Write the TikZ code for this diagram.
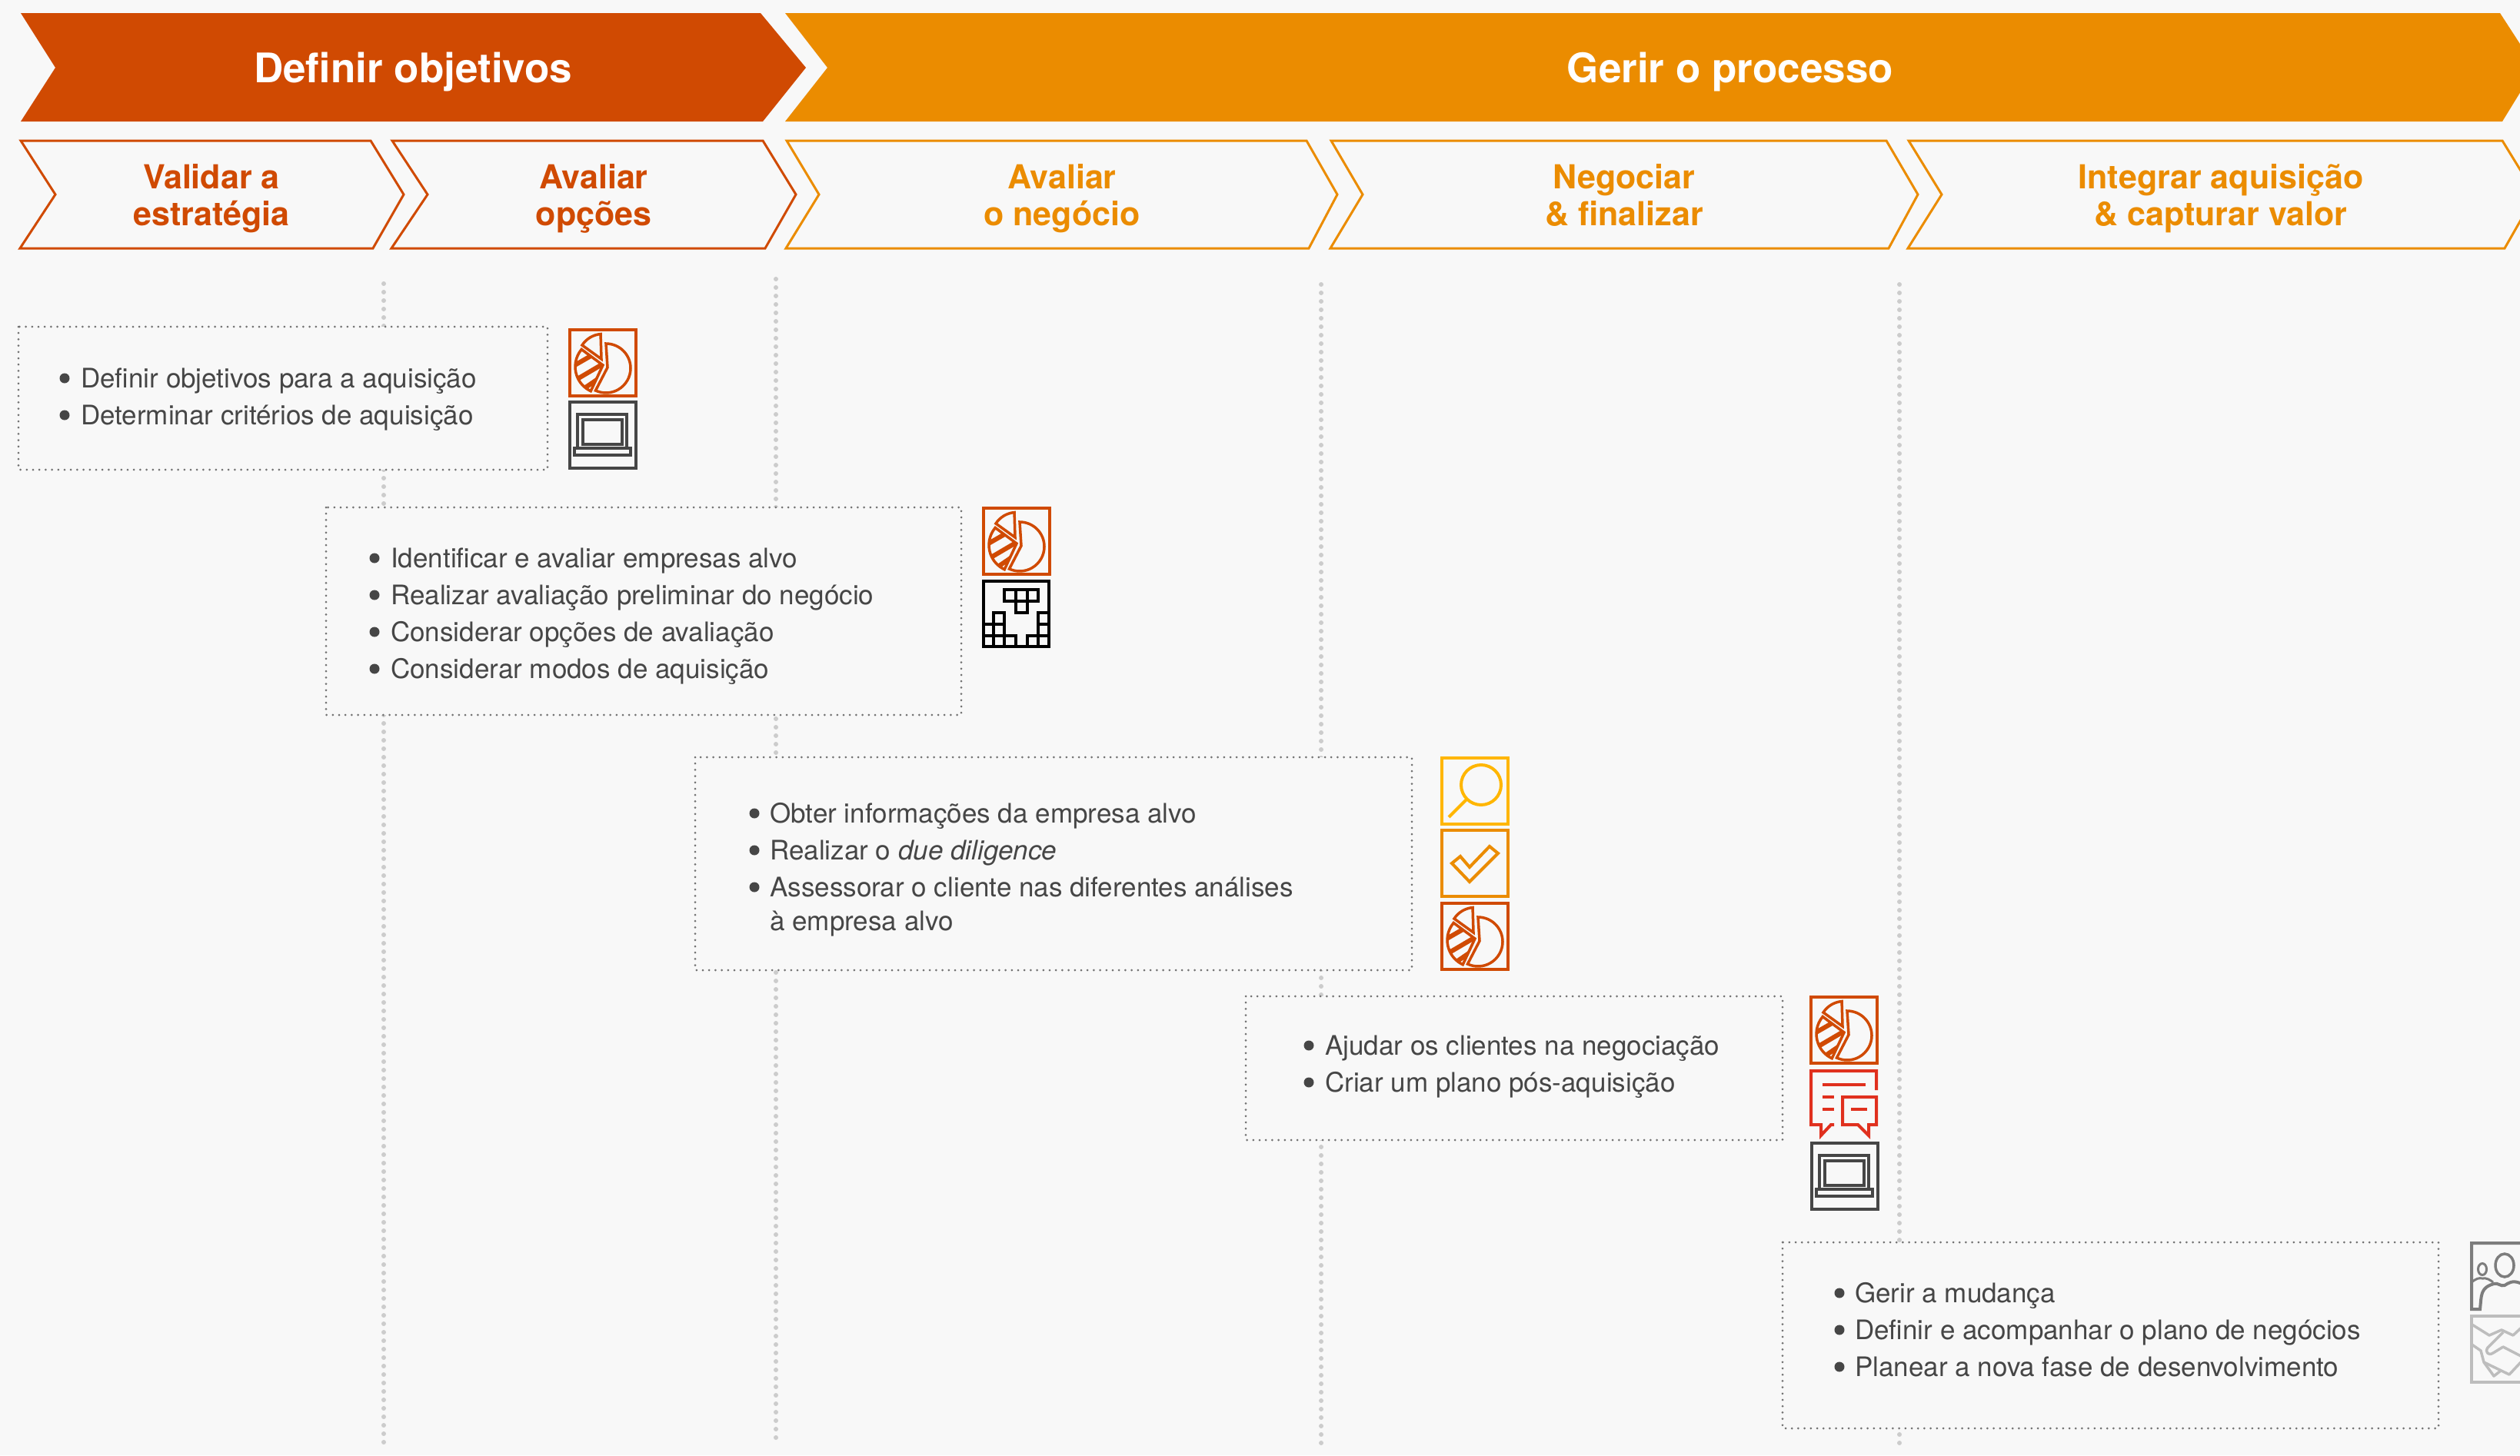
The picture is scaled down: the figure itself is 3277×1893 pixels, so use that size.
\documentclass[tikz,border=0pt]{standalone}
\usepackage{fontspec}
\setmainfont{TeX Gyre Heros}
\definecolor{bgc}{HTML}{F8F8F8}
\definecolor{rust}{HTML}{D04A02}
\definecolor{amber}{HTML}{EB8C00}
\definecolor{yel}{HTML}{FFB600}
\definecolor{redc}{HTML}{E0301E}
\definecolor{dk}{HTML}{464646}
\definecolor{gr}{HTML}{7D7D7D}
\definecolor{lg}{HTML}{BDBDBD}
\tikzset{
  x=1pt,y=-1pt,
  headtext/.style={text=white,inner sep=0pt,anchor=base,yshift=-2pt,font=\fontsize{53}{60}\selectfont\bfseries},
  subtext/.style={inner sep=0pt,anchor=base,yshift=-1pt,font=\fontsize{43}{48}\selectfont\bfseries},
  itemtext/.style={inner sep=0pt,anchor=base west,yshift=-1.5pt,text=dk,font=\fontsize{35}{48}\selectfont},
  bulletdot/.style={circle,fill=dk,inner sep=0pt,minimum size=13pt},
  guide/.style={draw=black!20,line width=6pt,line cap=round,dash pattern=on 0pt off 11pt},
  boxdots/.style={draw=gr!90!black,fill=bgc,line width=3pt,line cap=round,dash pattern=on 0pt off 8.2pt},
  sub1/.style={draw=rust,fill=bgc,line width=3pt,line join=miter},
  sub2/.style={draw=amber,fill=bgc,line width=3pt,line join=miter},
  piepic/.pic={
    \draw[rust,line width=4pt] (2,2) rectangle (88,88);
    \draw[rust,line width=3.5pt] (49,20) arc[start angle=-90,end angle=115,radius=32] -- (51,51) -- cycle;
    \draw[rust,line width=3.5pt] (18,22) arc[start angle=213,end angle=265,radius=32] -- (43,40) -- cycle;
    \begin{scope}
      \clip (17.2,27.5) arc[start angle=220,end angle=115,radius=35] -- (45,48) -- cycle;
      \draw[rust,line width=6pt] (5,50) -- (38,31) (10,67) -- (44,47) (18,80) -- (40,65);
    \end{scope}
    \draw[rust,line width=3.5pt] (17.2,27.5) arc[start angle=220,end angle=115,radius=35] -- (45,48) -- cycle;
  },
  laptoppic/.pic={
    \draw[dk,line width=4pt] (2,2) rectangle (88,88);
    \draw[dk,line width=3.5pt] (12,62) -- (12,18) -- (76,18) -- (76,62);
    \draw[dk,line width=4pt] (19,25) rectangle (70,57);
    \draw[dk,line width=3.5pt] (8,62) rectangle (81,71);
  },
  tetrispic/.pic={
    \draw[black,line width=4pt] (2,2) rectangle (87,87);
    \draw[black,line width=3.5pt] (29,13) rectangle (73,28) (44,13) -- (44,28) (59,13) -- (59,28) (44,28) rectangle (59,43);
    \draw[black,line width=3.5pt] (15,43) rectangle (29,58) (2,58) rectangle (29,73) (15,58) -- (15,73)
      (2,73) rectangle (44,87) (15,73) -- (15,87) (29,73) -- (29,87)
      (59,73) rectangle (87,87) (73,73) -- (73,87)
      (73,43) rectangle (87,73) (73,58) -- (87,58);
  },
  searchpic/.pic={
    \draw[yel,line width=4pt] (2,2) rectangle (88,88);
    \draw[yel,line width=4pt] (53,37) circle[radius=26];
    \draw[yel,line width=4pt] (34,56) -- (11,79);
  },
  checkpic/.pic={
    \draw[amber,line width=4pt] (2,2) rectangle (88,88);
    \draw[amber,line width=4pt] (15,45) -- (26,36) -- (38,50) -- (64,23) -- (75,32) -- (38,69) -- cycle;
  },
  chatpic/.pic={
    \draw[redc,line width=4pt] (87,28) -- (87,3) -- (2,3) -- (2,73) -- (15,73) -- (15,87) -- (28,73) -- (32,73);
    \draw[redc,line width=4pt] (17,21) -- (73,21) (17,37) -- (32,37) (17,53) -- (32,53) (54,53) -- (75,53);
    \draw[redc,line width=4pt] (43,37) -- (87,37) -- (87,73) -- (77,73) -- (77,87) -- (63,73) -- (43,73) -- cycle;
  },
  peoplepic/.pic={
    \draw[gr,line width=4pt] (120,2) -- (2,2) -- (2,88) -- (13,88) .. controls (15,70) and (13,60) .. (31,55)
      .. controls (36,53) and (40,59) .. (45,57) .. controls (50,54) and (55,50) .. (65,54) -- (80,50);
    \draw[gr,line width=3pt] (2,53) .. controls (8,48) and (12,47) .. (16,48) .. controls (22,47) and (26,50) .. (30,53);
    \draw[gr,line width=3pt] (16,36) ellipse[x radius=5.5,y radius=7.5];
    \draw[gr,line width=3.5pt] (45,31) ellipse[x radius=12,y radius=15];
  },
  handpic/.pic={
    \draw[lg,line width=4pt] (120,2) -- (2,2) -- (2,88) -- (120,88);
    \draw[lg,line width=3.5pt,line join=round] (1,12) -- (25,27) -- (41,20) -- (56,27) -- (70,14);
    \draw[lg,line width=3.5pt,line join=round] (43,23) -- (23,43) .. controls (19,49) and (24,54) .. (30,50) -- (43,42) -- (70,56);
    \draw[lg,line width=3.5pt,line join=round] (1,38) -- (14,47) -- (18,62) -- (51,78) -- (66,62);
    \draw[lg,line width=3.5pt,line join=round] (18,62) -- (31,80) -- (40,73);
  }
}
\begin{document}
\begin{tikzpicture}
\useasboundingbox (0,0) rectangle (3277,1893);
\clip (0,0) rectangle (3277,1893);
\fill[bgc] (0,0) rectangle (3277,1893);

% header chevrons
\fill[rust] (27,17) -- (989,17) -- (1048,88) -- (992,158) -- (27,158) -- (72,88) -- cycle;
\fill[amber] (1021,17) -- (3251,17) -- (3297,88) -- (3254,158) -- (1021,158) -- (1076,88) -- cycle;
\node[headtext] (h1) at (537,105) {Definir objetivos};
\node[headtext] (h2) at (2250,105) {Gerir o processo};

% sub chevrons
\draw[sub1] (27,183) -- (482,183) -- (525,253) -- (485,323) -- (26,323) -- (72,253) -- cycle;
\draw[sub1] (510,183) -- (992,183) -- (1035,253) -- (995,323) -- (509,323) -- (556,253) -- cycle;
\draw[sub2] (1023,183) -- (1699,183) -- (1739,253) -- (1702,323) -- (1022,323) -- (1065,253) -- cycle;
\draw[sub2] (1731,183) -- (2453,183) -- (2494,253) -- (2456,323) -- (1730,323) -- (1772,253) -- cycle;
\draw[sub2] (2482,183) -- (3254,183) -- (3297,253) -- (3257,323) -- (2481,323) -- (2525,253) -- cycle;
\node[subtext,text=rust] (s1a) at (275,244) {Validar a};
\node[subtext,text=rust] (s1b) at (275,292) {estratégia};
\node[subtext,text=rust] (s2a) at (772,244) {Avaliar};
\node[subtext,text=rust] (s2b) at (772,292) {opções};
\node[subtext,text=amber] (s3a) at (1381,244) {Avaliar};
\node[subtext,text=amber] (s3b) at (1381,292) {o negócio};
\node[subtext,text=amber] (s4a) at (2112,244) {Negociar};
\node[subtext,text=amber] (s4b) at (2112,292) {\&\ finalizar};
\node[subtext,text=amber] (s5a) at (2888,244) {Integrar aquisição};
\node[subtext,text=amber] (s5b) at (2888,292) {\&\ capturar valor};

% guides
\coordinate (g1t) at (499,369); \coordinate (g1b) at (499,1887);
\coordinate (g2t) at (1009,363); \coordinate (g2b) at (1009,1881);
\coordinate (g3t) at (1718,370); \coordinate (g3b) at (1718,1887);
\coordinate (g4t) at (2470,370); \coordinate (g4b) at (2470,1887);
\draw[guide] (g1t) -- (g1b);
\draw[guide] (g2t) -- (g2b);
\draw[guide] (g3t) -- (g3b);
\draw[guide] (g4t) -- (g4b);

% boxes
\draw[boxdots] (24,425) rectangle (712,611);
\draw[boxdots] (424,660) rectangle (1250,930);
\draw[boxdots] (904,985) rectangle (1836,1262);
\draw[boxdots] (1620,1296) rectangle (2318,1483);
\draw[boxdots] (2318,1616) rectangle (3171,1858);

% box 1
\node[bulletdot] (b11) at (84,492) {};
\node[itemtext] (t11) at (105,503) {Definir objetivos para a aquisição};
\node[bulletdot] (b12) at (84,540) {};
\node[itemtext] (t12) at (105,551) {Determinar critérios de aquisição};
% box 2
\node[bulletdot] (b21) at (487,726) {};
\node[itemtext] (t21) at (508,737) {Identificar e avaliar empresas alvo};
\node[bulletdot] (b22) at (487,774) {};
\node[itemtext] (t22) at (508,785) {Realizar avaliação preliminar do negócio};
\node[bulletdot] (b23) at (487,822) {};
\node[itemtext] (t23) at (508,833) {Considerar opções de avaliação};
\node[bulletdot] (b24) at (487,870) {};
\node[itemtext] (t24) at (508,881) {Considerar modos de aquisição};
% box 3
\node[bulletdot] (b31) at (981,1058) {};
\node[itemtext] (t31) at (1001,1069) {Obter informações da empresa alvo};
\node[bulletdot] (b32) at (981,1106) {};
\node[itemtext] (t32) at (1001,1117) {Realizar o \textit{due diligence}};
\node[bulletdot] (b33) at (981,1154) {};
\node[itemtext] (t33) at (1001,1165) {Assessorar o cliente nas diferentes análises};
\node[itemtext] (t34) at (1001,1209) {à empresa alvo};
% box 4
\node[bulletdot] (b41) at (1702,1360) {};
\node[itemtext] (t41) at (1723,1371) {Ajudar os clientes na negociação};
\node[bulletdot] (b42) at (1702,1408) {};
\node[itemtext] (t42) at (1723,1419) {Criar um plano pós-aquisição};
% box 5
\node[bulletdot] (b51) at (2392,1682) {};
\node[itemtext] (t51) at (2412,1693) {Gerir a mudança};
\node[bulletdot] (b52) at (2392,1730) {};
\node[itemtext] (t52) at (2412,1741) {Definir e acompanhar o plano de negócios};
\node[bulletdot] (b53) at (2392,1778) {};
\node[itemtext] (t53) at (2412,1789) {Planear a nova fase de desenvolvimento};

% icons
\pic (i1) at (739,427) {piepic};
\pic (i2) at (739,521) {laptoppic};
\pic (i3) at (1277,659) {piepic};
\pic (i4) at (1277,754) {tetrispic};
\pic (i5) at (1873,984) {searchpic};
\pic (i6) at (1873,1078) {checkpic};
\pic (i7) at (1873,1173) {piepic};
\pic (i8) at (2353,1295) {piepic};
\pic (i9) at (2353,1390) {chatpic};
\pic (i10) at (2354,1485) {laptoppic};
\pic (i11) at (3212,1615) {peoplepic};
\pic (i12) at (3212,1710) {handpic};
\end{tikzpicture}
\end{document}
